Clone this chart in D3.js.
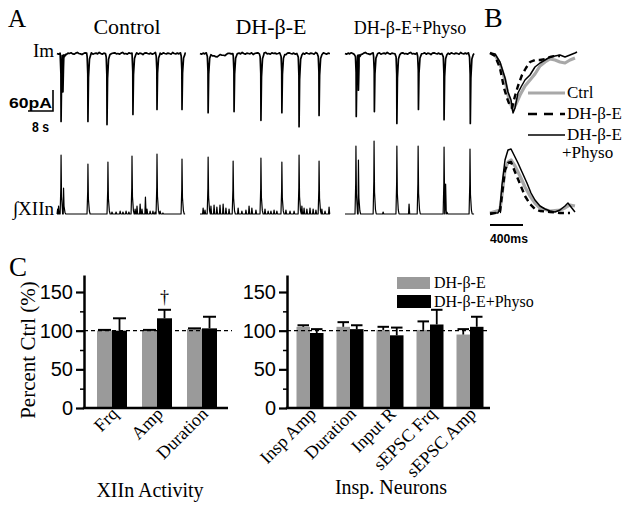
<!DOCTYPE html>
<html><head><meta charset="utf-8">
<script src="https://cdn.jsdelivr.net/npm/d3@7"></script>
<style>
body{margin:0;background:#fff}
svg{display:block}
</style>
</head><body>
<svg id="c" width="624" height="507"></svg>
<script>
// ---------------- DATA ----------------
// Panel C
const seriesNames = ["DH-β-E", "DH-β-E+Physo"];
const xiinCats = ["Frq", "Amp", "Duration"];
const xiinDH = [100, 100, 102];
const xiinDHSem = [1, 1, 1];
const xiinPhy = [100, 116, 103];
const xiinPhySem = [16, 11, 15];
const neuronCats = ["Insp Amp", "Duration", "Input R", "sEPSC Frq", "sEPSC Amp"];
const neurDH = [105, 105, 101, 101, 95];
const neurDHSem = [2, 6, 4, 11, 7];
const neurPhy = [97, 102, 94, 108, 105];
const neurPhySem = [5, 5, 10, 19, 13];
const yTicks = [0, 50, 100, 150];
const yMinorTicks = [25, 75, 125];

// Panel A (times in s, Im in pA, XIIn in a.u.)
const ctrlImSpikes = [[1.3, 194], [1.9, 110], [9.9, 194], [16.0, 203], [24.3, 174], [32.0, 160], [40.0, 160]];
const dhImSpikes = [[2.6, 169], [10.9, 166], [19.5, 191], [26.2, 169], [31.7, 209], [38.1, 177]];
const phyImSpikes = [[3.6, 180], [4.3, 105], [9.4, 166], [16.6, 200], [23.5, 160], [31.7, 189], [40.1, 200]];
const dhImSag = [[3.4, 0], [4.2, -9], [6.0, -7], [8.0, -3], [9.8, 0]];
const imRipple = [0,-2,1,-1,2,0,-3,1,0,2,-1,-2, 1,3,0,-1,-3,0,2,1,-1,0,2,-2, 0,1,-1,3,0,-2,1,0,-1,2,-3,0,
  1,2,-1,0,-2,1,3,-1,0,-2,2,0, 1,-1,0,2,-2,1,0,-3,1,2,0,-1, 1,-2,0,3,-1,0,1,-2,2,0,-1,1, 0,-2,3,0,-1,1,-1,2,0,-2,1,0];
const traceEnds = [41.0, 41.6, 41.3];

const ctrlXSpikes = [[1.3, 59], [2.1, 26], [9.9, 50], [16.3, 52], [24.0, 58], [32.0, 60], [40.0, 55]];
const dhXSpikes = [[2.6, 57], [10.6, 53], [19.5, 56], [26.2, 52], [31.7, 59], [38.1, 53]];
const phyXSpikes = [[3.5, 68], [4.3, 54], [9.3, 73], [16.6, 68], [23.4, 68], [31.7, 67], [32.2, 30], [40.0, 65]];
const ctrlXBumps = [[0.2, 5], [0.5, 8], [17.6, 2], [18.9, 2], [20.2, 3], [21.1, 2], [22.1, 3], [23.0, 2],
  [25.0, 5], [25.6, 8], [26.6, 10], [27.2, 5], [28.3, 17], [28.8, 5], [29.8, 3], [30.7, 3], [31.4, 2], [33.0, 3], [33.9, 1]];
const dhXBumps = [[1.0, 6], [1.6, 4], [3.5, 8], [4.5, 9], [5.4, 7], [6.4, 9], [7.4, 10], [8.3, 6], [9.3, 5],
  [12.2, 6], [13.4, 3], [14.7, 4], [15.7, 8], [16.6, 6], [17.9, 4], [20.8, 5], [21.8, 3], [22.7, 3], [23.7, 4],
  [24.6, 3], [27.5, 4], [28.8, 3], [30.1, 3], [32.6, 8], [33.3, 6], [34.2, 5], [35.2, 6], [36.2, 5], [37.1, 4],
  [39.0, 5], [40.0, 3], [41.3, 7]];
const phyXBumps = [[12.2, 2], [20.5, 10]];

// Panel B (time in ms, amplitude in a.u.)
const bImPhy = [[0,0],[61,-1],[121,-9],[182,-25],[218,-39],[255,-47],[279,-60],[303,-55],[339,-40],[376,-34],[424,-27],[485,-22],[545,-14],[606,-10],[667,-7],[727,-4],[788,-3],[848,-2],[909,-4],[970,-2],[1030,0],[1055,1]];
const bImCtrl = [[0,0],[61,-2],[121,-11],[182,-27],[218,-42],[255,-52],[279,-57],[315,-51],[364,-42],[424,-33],[485,-27],[545,-21],[606,-13],[667,-9],[727,-6],[788,-7],[848,-9],[909,-10],[970,-7],[1030,-5]];
const bImDH = [[0,0],[61,-3],[121,-15],[170,-35],[206,-45],[242,-53],[267,-55],[303,-43],[339,-33],[388,-22],[436,-15],[485,-9],[545,-7],[606,-7],[667,-6],[727,-4],[788,-3],[848,-3]];
const bXPhy = [[0,0],[97,0],[121,5],[145,28],[182,53],[218,63],[255,64],[291,58],[339,50],[388,41],[448,30],[497,20],[545,13],[606,7],[667,4],[727,2],[788,1],[848,3],[909,7],[945,10],[982,6],[1030,1]];
const bXCtrl = [[0,0],[121,3],[145,18],[182,43],[218,51],[255,53],[303,47],[364,37],[424,26],[485,17],[545,10],[606,5],[727,2],[848,3],[909,5],[970,8],[1030,7]];
const bXDH = [[0,-1],[121,1],[145,18],[182,43],[218,50],[255,51],[303,41],[364,29],[424,17],[485,9],[545,4],[606,2],[727,1],[848,0],[970,0]];

// ---------------- DRAW ----------------
const SERIF = '"Liberation Serif","Times New Roman",serif';
const SANS = '"Liberation Sans",Arial,sans-serif';
const svg = d3.select("#c");

function txt(x, y, s, size, fam, opts = {}) {
  const t = svg.append("text").attr("x", x).attr("y", y).text(s)
    .attr("font-size", size).attr("font-family", fam).attr("fill", "#000");
  if (opts.anchor) t.attr("text-anchor", opts.anchor);
  if (opts.bold) t.attr("font-weight", "bold");
  if (opts.len) t.attr("textLength", opts.len).attr("lengthAdjust", "spacingAndGlyphs");
  return t;
}

// ---- Panel C bar charts ----
const y = d3.scaleLinear().domain([0, 172]).range([408, 275]);

function barChart(cfg) {
  const g = svg.append("g");
  const xc = d3.scalePoint().domain(cfg.cats).range(cfg.centers);
  const xs = d3.scaleBand().domain(seriesNames).range([-cfg.bw, cfg.bw]);
  const vals = [cfg.dh, cfg.phy], sems = [cfg.dhSem, cfg.phySem], cols = ["#9a9a9a", "#000"];
  seriesNames.forEach((s, si) => {
    g.selectAll(null).data(cfg.cats).enter().append("rect")
      .attr("x", d => xc(d) + xs(s)).attr("width", xs.bandwidth())
      .attr("y", (d, i) => y(vals[si][i])).attr("height", (d, i) => y(0) - y(vals[si][i]))
      .attr("fill", cols[si]);
  });
  seriesNames.forEach((s, si) => {
    cfg.cats.forEach((c, i) => {
      const cx = xc(c) + xs(s) + xs.bandwidth() / 2;
      const top = y(vals[si][i] + sems[si][i]);
      g.append("line").attr("x1", cx).attr("x2", cx).attr("y1", y(vals[si][i])).attr("y2", top)
        .attr("stroke", "#000").attr("stroke-width", 1.8);
      g.append("line").attr("x1", cx - xs.bandwidth() / 2 + 1).attr("x2", cx + xs.bandwidth() / 2 - 1)
        .attr("y1", top).attr("y2", top).attr("stroke", "#000").attr("stroke-width", 2);
    });
  });
  g.append("line").attr("x1", cfg.axisX).attr("x2", cfg.dashEnd).attr("y1", y(100)).attr("y2", y(100))
    .attr("stroke", "#000").attr("stroke-width", 1.4).attr("stroke-dasharray", "4,3");
  // axes
  const ax = g.append("g").attr("transform", `translate(${cfg.axisX},0)`)
    .call(d3.axisLeft(y).tickValues(yTicks).tickSize(8).tickPadding(3).tickSizeOuter(0));
  ax.attr("font-family", SANS).attr("font-size", 20);
  ax.select(".domain").attr("stroke-width", 2.5);
  ax.selectAll(".tick line").attr("stroke-width", 2.2);
  ax.selectAll(".tick text").attr("fill", "#000");
  const axm = g.append("g").attr("transform", `translate(${cfg.axisX},0)`)
    .call(d3.axisLeft(y).tickValues(yMinorTicks).tickSize(4).tickFormat("").tickSizeOuter(0));
  axm.select(".domain").remove();
  axm.selectAll(".tick line").attr("stroke-width", 1.5);
  g.append("line").attr("x1", cfg.axisX - 1.2).attr("x2", cfg.xEnd).attr("y1", y(0)).attr("y2", y(0))
    .attr("stroke", "#000").attr("stroke-width", 2.5);
  // category labels
  g.selectAll(null).data(cfg.cats).enter().append("text")
    .attr("transform", d => `translate(${xc(d) + 7},${y(0) + 7}) rotate(-45)`)
    .attr("text-anchor", "end").attr("font-family", SERIF).attr("font-size", 18).attr("fill", "#000")
    .text(d => d);
  return { xc, xs };
}

const left = barChart({ cats: xiinCats, dh: xiinDH, dhSem: xiinDHSem, phy: xiinPhy, phySem: xiinPhySem,
  centers: [112, 202], bw: 15, axisX: 84, xEnd: 228, dashEnd: 232 });
barChart({ cats: neuronCats, dh: neurDH, dhSem: neurDHSem, phy: neurPhy, phySem: neurPhySem,
  centers: [310, 470], bw: 13.5, axisX: 287, xEnd: 490, dashEnd: 490 });

// dagger over Amp
{
  const cx = left.xc("Amp") + left.xs(seriesNames[1]) + left.xs.bandwidth() / 2;
  txt(cx, y(xiinPhy[1] + xiinPhySem[1]) - 7, "†", 18, SERIF, { anchor: "middle" });
}

// y label
svg.append("text").attr("transform", "translate(35,350) rotate(-90)").attr("text-anchor", "middle")
  .attr("font-family", SERIF).attr("font-size", 21).attr("fill", "#000").text("Percent Ctrl (%)");
txt(150, 497, "XIIn Activity", 20, SERIF, { anchor: "middle" });
txt(391, 494, "Insp. Neurons", 20, SERIF, { anchor: "middle" });
txt(9, 276, "C", 27, SERIF);

// legend C
svg.append("rect").attr("x", 397).attr("y", 277).attr("width", 33).attr("height", 12).attr("fill", "#9a9a9a");
svg.append("rect").attr("x", 397).attr("y", 295).attr("width", 34).attr("height", 13).attr("fill", "#000");
txt(434, 288, seriesNames[0], 16, SERIF);
txt(434, 307, seriesNames[1], 16, SERIF);

// ---- Panel A traces ----
const imY = d3.scaleLinear().domain([-60, 0]).range([74.5, 53.5]);
const xnY = d3.scaleLinear().domain([0, 60]).range([214, 154]);
const x0s = [57, 200, 345];
const tScales = x0s.map(x0 => d3.scaleLinear().domain([0, 8]).range([x0, x0 + 25]));

function imTrace(ts, spikes, endT, sag) {
  const sagF = sag ? d3.scaleLinear().domain(sag.map(d => d[0])).range(sag.map(d => d[1])).clamp(true) : () => 0;
  let pts = [];
  imRipple.forEach((r, k) => {
    const t = k * 0.5;
    if (t > endT) return;
    if (spikes.some(s => t > s[0] - 0.3 && t < s[0] + 1.0)) return;
    pts.push([t, r + sagF(t)]);
  });
  pts.push([endT, 0]);
  spikes.forEach(([t, h]) => {
    pts.push([t - 0.25, -0.05 * h], [t - 0.05, -0.3 * h], [t, -h], [t + 0.18, -0.35 * h], [t + 0.5, -0.08 * h], [t + 0.9, -0.02 * h]);
  });
  pts.sort((a, b) => a[0] - b[0]);
  svg.append("path").attr("d", d3.line().x(d => ts(d[0])).y(d => imY(d[1]))(pts))
    .attr("fill", "none").attr("stroke", "#000").attr("stroke-width", 1.7).attr("stroke-linejoin", "round");
}
function xnTrace(ts, spikes, bumps, endT) {
  let pts = [[0, 0], [endT, 0]];
  spikes.forEach(([t, h]) => {
    pts.push([t - 0.3, 0], [t - 0.08, 0.45 * h], [t, h], [t + 0.15, 0.3 * h], [t + 0.45, 0.06 * h], [t + 0.7, 0]);
  });
  bumps.forEach(([t, h]) => { pts.push([t - 0.18, 0], [t, h], [t + 0.2, 0]); });
  pts.sort((a, b) => a[0] - b[0]);
  svg.append("path").attr("d", d3.line().x(d => ts(d[0])).y(d => xnY(d[1]))(pts))
    .attr("fill", "none").attr("stroke", "#000").attr("stroke-width", 1.2).attr("stroke-linejoin", "round");
}
imTrace(tScales[0], ctrlImSpikes, traceEnds[0]);
imTrace(tScales[1], dhImSpikes, traceEnds[1], dhImSag);
imTrace(tScales[2], phyImSpikes, traceEnds[2]);
xnTrace(tScales[0], ctrlXSpikes, ctrlXBumps, traceEnds[0]);
xnTrace(tScales[1], dhXSpikes, dhXBumps, traceEnds[1]);
xnTrace(tScales[2], phyXSpikes, phyXBumps, traceEnds[2]);

// scale bar A
{
  const bx = 53, by = 111;
  const h = imY(-60) - imY(0), w = tScales[0](8) - tScales[0](0);
  svg.append("path").attr("d", `M${bx - w},${by}H${bx}V${by - h}`).attr("fill", "none")
    .attr("stroke", "#000").attr("stroke-width", 1.6);
  txt(9, 108, "60pA", 15, SANS, { bold: true, len: 43 });
  txt(32, 132, "8 s", 14, SANS, { bold: true, len: 17 });
}
txt(8, 27, "A", 25, SERIF);
txt(127, 34, "Control", 22, SERIF, { anchor: "middle" });
txt(271, 34, "DH-β-E", 22, SERIF, { anchor: "middle" });
txt(410, 34, "DH-β-E+Physo", 18, SERIF, { anchor: "middle" });
txt(54, 57, "Im", 19, SERIF, { anchor: "end" });
txt(54, 215, "∫XIIn", 19, SERIF, { anchor: "end" });

// ---- Panel B ----
txt(484, 27, "B", 28, SERIF);
const bT = d3.scaleLinear().domain([0, 400]).range([490, 523]);
const bY1 = d3.scaleLinear().domain([-62, 0]).range([115, 53]);
const bY2 = d3.scaleLinear().domain([0, 64]).range([213, 149]);
function bLine(data, ys, style) {
  const p = svg.append("path").attr("d", d3.line().x(d => bT(d[0])).y(d => ys(d[1]))(data))
    .attr("fill", "none").attr("stroke", style.c).attr("stroke-width", style.w).attr("stroke-linejoin", "round");
  if (style.dash) p.attr("stroke-dasharray", style.dash);
}
const stCtrl = { c: "#a8a8a8", w: 3.2 }, stDH = { c: "#000", w: 2.4, dash: "6,4" }, stPhy = { c: "#000", w: 1.5 };
bLine(bImCtrl, bY1, stCtrl); bLine(bImDH, bY1, stDH); bLine(bImPhy, bY1, stPhy);
bLine(bXCtrl, bY2, stCtrl); bLine(bXDH, bY2, stDH); bLine(bXPhy, bY2, stPhy);
// legend B
[[93, stCtrl], [114, { c: "#000", w: 2.4, dash: "9,7" }], [135, stPhy]].forEach(([ly, st]) => {
  const l = svg.append("line").attr("x1", 528).attr("x2", 565).attr("y1", ly).attr("y2", ly)
    .attr("stroke", st.c).attr("stroke-width", st.w);
  if (st.dash) l.attr("stroke-dasharray", st.dash);
});
txt(567, 98, "Ctrl", 17, SERIF);
txt(567, 119, "DH-β-E", 17, SERIF);
txt(567, 140, "DH-β-E", 17, SERIF);
txt(562, 158, "+Physo", 17, SERIF);
// scale bar B
svg.append("line").attr("x1", bT(0)).attr("x2", bT(400)).attr("y1", 225).attr("y2", 225)
  .attr("stroke", "#000").attr("stroke-width", 1.8);
txt(490, 243, "400ms", 13, SANS, { bold: true, len: 38 });
</script>
</body></html>
